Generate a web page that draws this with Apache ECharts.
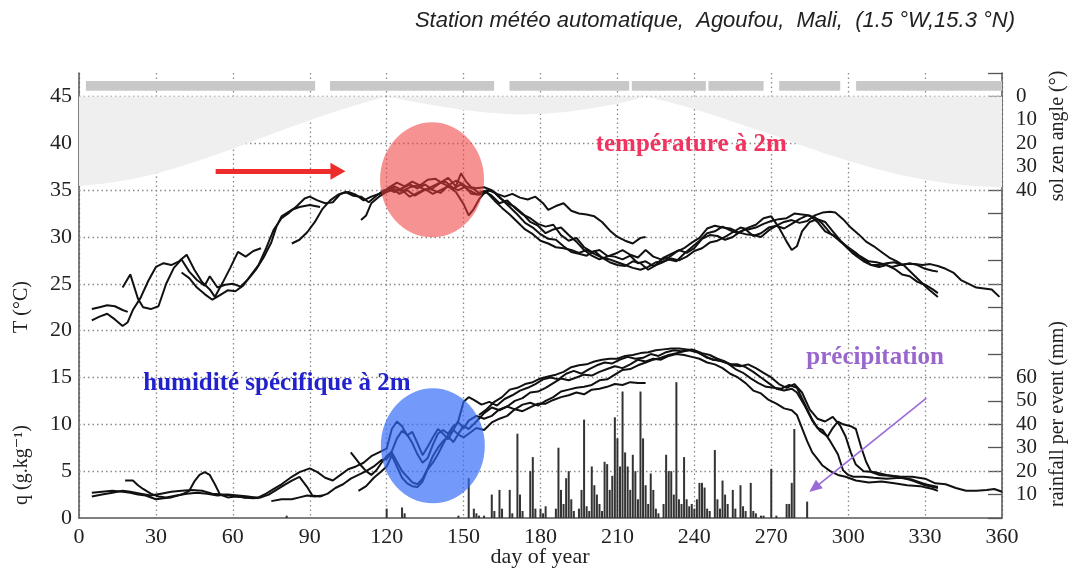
<!DOCTYPE html>
<html>
<head>
<meta charset="utf-8">
<script src="https://cdn.jsdelivr.net/npm/echarts@6/dist/echarts.min.js"></script>
<style>
  html, body { margin: 0; padding: 0; background: #ffffff; }
  #chart { width: 1072px; height: 575px; }
</style>
</head>
<body>
<div id="chart"></div>
<script>
// ---- Agoufou automatic weather station: daily series, one line per year ----

// 2 m air temperature (°C), [day of year, value]
const tempA = [[5,21.1],[8,21.5],[11,21.8],[14,21.2],[17,20.5],[19,20.9],[21,22.2],[24,23.5],[27,25.3],[30,26.8],[33,27.2],[36,27.0],[39,27.4],[42,28.1],[45,26.5],[48,25.2],[51,24.4],[53,23.6],[56,25.1],[59,26.7],[62,28.4],[65,27.9],[68,28.5],[71,28.8]];
const tempB1 = [[5,22.3],[8,22.5],[11,22.7],[14,22.6],[17,22.2],[19,22.0]];
const tempB2 = [[83,29.3],[86,29.7],[89,30.5],[92,31.6],[95,33.0],[98,33.9],[101,34.5],[104,34.8],[107,34.4],[110,34.3],[113,33.7],[116,34.4],[119,35.0],[122,35.2],[125,34.6],[128,35.0],[131,34.4],[134,34.9],[137,35.3],[140,35.7],[143,35.9],[146,35.2],[149,35.6],[152,35.0],[155,34.6],[158,34.9],[161,34.4],[164,33.6],[167,33.9],[170,33.1],[173,32.4],[176,32.0],[179,31.4],[182,31.1],[185,31.3],[188,30.2],[191,29.6],[194,29.9],[197,28.9],[200,28.4],[203,28.6],[206,28.0],[209,27.9],[212,27.6],[215,28.0],[218,27.2],[221,27.4],[224,26.9],[227,27.2],[230,27.6],[233,27.4],[236,28.2],[239,28.9],[242,29.6],[245,30.4],[248,30.6],[251,31.1],[254,30.7],[257,30.4],[260,30.8],[263,30.1],[266,30.4],[269,31.0],[272,31.2],[275,30.9],[278,31.4],[281,31.9],[284,32.3],[287,32.1],[290,31.4],[293,30.4],[296,29.8],[299,29.0],[302,28.2],[305,27.9],[308,27.4],[311,27.3],[314,27.1],[317,26.8],[320,27.0],[323,27.1],[326,27.1],[329,27.0],[332,27.1],[335,26.9],[338,26.6],[341,26.2],[344,25.4],[347,25.0],[350,24.6],[353,24.5],[356,24.4],[359,23.6]];
const tempC = [[17,24.6],[20,26.0],[23,23.4],[25,22.5],[28,22.3],[31,22.6],[34,25.0],[37,26.7],[40,27.6],[43,26.3],[46,25.4],[49,24.8],[51,25.8],[54,24.6],[57,24.9],[60,25.0],[63,24.7],[66,25.5],[69,26.5],[72,27.8],[75,29.4],[77,31.1],[79,32.2],[83,32.9],[86,33.2],[90,33.4],[94,33.2]];
const tempD = [[40,26.2],[43,25.6],[46,24.6],[49,23.9],[52,23.3],[55,23.8],[58,24.3],[61,24.2],[64,24.8],[67,25.9],[70,27.0],[73,28.8],[76,30.8],[79,32.0],[82,32.6],[85,33.3],[88,34.1],[90,34.3],[93,33.9],[96,33.6],[99,33.7],[102,34.6],[105,34.8],[108,34.5],[111,33.9],[114,34.3],[117,34.6],[120,34.9],[123,35.4],[126,35.0],[129,34.3],[132,34.7],[135,35.1],[138,34.6],[141,35.0],[144,35.4],[147,34.8],[150,33.5],[152,32.3],[154,33.0],[156,34.0],[159,35.0],[162,34.8],[165,34.0],[168,33.2],[171,32.4],[174,31.5],[177,31.0],[180,30.3],[183,29.8],[186,29.7],[189,29.0],[192,28.4],[195,28.2],[198,28.0],[201,28.5],[204,27.8],[207,27.3],[210,27.0],[213,26.9],[216,27.4],[219,27.2],[222,26.5],[225,27.0],[228,27.8],[231,28.2],[234,28.6],[237,28.3],[240,28.8],[243,29.8],[246,30.2],[249,30.1],[252,29.7],[255,30.0],[258,30.6],[261,31.0],[264,31.3],[267,32.0],[270,32.2],[273,31.0],[276,29.5],[278,28.6],[280,29.0],[282,30.6],[285,31.6],[288,31.9],[291,31.6],[294,30.6],[297,29.6],[300,28.8],[303,28.0],[306,27.4],[309,27.0],[312,27.0],[315,27.2],[318,27.3],[321,27.0],[324,27.2],[327,27.0],[330,26.6],[333,26.4],[335,26.3]];
const tempE = [[110,31.8],[112,32.3],[114,33.6],[117,34.3],[120,34.8],[123,35.1],[126,34.9],[129,35.3],[132,35.5],[135,35.0],[138,35.2],[141,35.8],[144,36.3],[147,35.4],[149,36.8],[151,35.9],[153,35.3],[155,35.2],[158,35.3],[161,35.0],[164,34.2],[167,33.6],[170,33.2],[173,32.5],[176,31.6],[179,31.2],[182,30.4],[185,30.8],[188,31.0],[191,30.2],[194,29.5],[197,28.6],[200,28.0],[203,27.6],[206,27.9],[209,28.2],[212,28.6],[215,28.1],[218,27.8],[221,28.6],[224,27.9],[227,27.6],[230,27.8],[233,28.4],[236,28.8],[239,29.4],[242,29.9],[245,30.9],[248,31.2],[251,31.0],[254,30.9],[257,30.5],[260,30.3],[263,30.2],[266,30.0],[269,30.7],[272,31.2],[275,31.6],[278,31.8],[281,31.5],[284,31.7],[287,32.3],[290,32.6],[293,32.7],[295,32.6],[298,31.9],[301,31.0],[304,30.3],[307,29.5],[310,29.0],[313,28.4],[316,27.8],[319,27.4],[322,26.9],[325,26.1],[328,25.3],[331,24.5],[335,23.6]];
const tempF = [[118,34.5],[121,35.3],[124,35.8],[127,35.4],[130,35.9],[133,35.5],[136,36.1],[139,36.2],[142,35.7],[145,35.3],[148,35.0],[151,35.4],[154,35.1],[157,34.5],[160,35.0],[163,34.6],[166,34.3],[169,34.6],[172,34.2],[175,34.0],[178,34.3],[181,33.6],[183,32.9],[186,33.3],[189,33.6],[192,32.8],[195,32.5],[198,32.4],[201,32.2],[204,31.6],[207,30.7],[210,30.0],[213,29.6],[216,29.3],[219,29.9],[221,30.0]];
const tempG = [[120,35.2],[123,34.8],[126,35.2],[129,35.6],[132,35.2],[135,35.6],[138,35.0],[141,34.7],[144,35.5],[147,36.0],[150,35.6],[153,34.6],[156,34.5],[159,34.8],[162,33.9],[165,33.1],[168,32.4],[171,31.6],[174,30.8],[177,30.3],[180,29.6],[183,29.3],[186,28.9],[189,28.8],[192,28.6],[195,28.3],[198,28.6],[201,28.2],[204,27.8],[207,27.6],[210,27.3],[213,27.0],[216,26.7],[219,26.5],[222,26.8],[225,27.3],[228,27.4],[231,27.7],[234,27.5],[237,27.9],[240,28.5],[243,28.8],[246,29.4],[249,29.6],[252,30.0],[255,30.5],[258,31.0],[261,30.8],[264,31.0],[267,31.4],[270,31.7],[273,31.9],[276,32.0],[279,32.5],[282,32.4],[285,32.3],[288,31.6],[291,30.6],[294,30.2],[297,29.5],[300,28.9],[303,28.3],[306,27.6],[309,27.0],[312,26.8],[315,27.0],[318,26.6],[321,26.0],[324,25.8],[327,25.2],[330,24.9],[333,24.4],[335,24.0]];

// 2 m specific humidity (g/kg), [day of year, value]
const humA = [[5,2.7],[9,2.8],[13,2.9],[17,2.8],[20,2.7],[23,2.5],[26,2.4],[30,2.0],[33,2.1],[36,2.2],[40,2.5],[43,2.9],[45,3.9],[47,4.6],[49,4.9],[51,4.6],[53,3.6],[55,2.5],[58,2.2],[61,2.3],[65,2.2],[70,2.2],[73,2.6],[76,3.1],[79,3.6],[83,4.4],[86,4.9],[90,5.3],[93,4.9],[96,4.3],[99,4.0],[102,4.6],[105,5.2],[108,5.5],[111,5.9],[114,6.6],[117,7.0],[120,7.4],[122,9.5],[124,10.3],[126,9.8],[128,8.8],[130,9.2],[132,8.0],[134,6.7],[136,7.6],[138,8.6],[140,9.5],[142,9.0],[144,8.4],[146,9.4],[148,10.4],[150,12.4],[152,12.9],[154,12.6],[157,12.1],[160,12.4],[163,12.0],[166,12.7],[169,13.1],[172,13.6],[175,13.9],[178,14.3],[181,14.8],[184,15.0],[187,14.8],[190,15.4],[193,15.7],[196,15.4],[199,15.9],[202,16.3],[205,16.6],[208,16.5],[211,16.9],[214,17.2],[217,17.0],[220,17.1],[223,17.5],[226,17.3],[229,17.7],[232,17.9],[235,17.8],[238,17.9],[241,17.7],[244,17.3],[247,16.9],[250,16.8],[253,16.5],[256,15.9],[259,15.5],[262,14.9],[265,14.4],[268,14.0],[271,13.9],[274,13.8],[277,14.2],[280,13.9],[283,12.2],[286,10.5],[288,9.6],[290,9.4],[293,8.2],[296,6.8],[298,5.1],[300,4.6],[302,4.4],[306,4.4],[310,4.3],[315,4.2],[320,4.3],[325,4.1],[330,3.6],[335,3.3]];
const humB = [[5,2.3],[9,2.5],[13,2.7],[17,2.9],[20,2.8],[24,2.6],[28,2.4],[32,2.6],[36,2.8],[40,2.9],[44,3.0],[48,2.9],[52,2.6],[56,2.5],[60,2.4],[64,2.2],[68,2.1],[71,2.2],[74,2.5],[77,3.0],[80,3.5],[83,4.0],[86,4.4],[89,3.3],[91,2.4],[94,2.3],[97,2.6],[100,3.2],[103,3.6],[106,4.2],[109,4.6],[112,5.0],[115,5.5],[118,6.2],[120,6.3],[122,7.0],[124,6.0],[126,5.0],[128,4.4],[130,3.8],[132,3.6],[134,4.2],[136,5.3],[138,6.6],[140,7.5],[142,8.2],[144,8.7],[146,8.1],[148,9.0],[150,9.8],[152,9.5],[155,10.3],[158,11.2],[161,11.8],[164,11.5],[167,11.9],[170,12.5],[173,12.8],[176,13.4],[179,13.5],[182,13.9],[185,14.4],[188,14.9],[191,14.7],[194,15.0],[197,15.3],[200,15.2],[203,15.6],[206,15.9],[209,16.2],[212,16.0],[215,16.4],[218,16.9],[221,16.7],[224,17.0],[227,16.9],[230,17.3],[233,17.5],[236,17.4],[239,17.2],[242,17.0],[245,16.6],[248,16.4],[251,16.0],[254,15.4],[257,15.0],[260,14.4],[263,13.6],[266,13.3],[269,12.6],[272,12.2],[275,11.7],[278,11.5],[280,11.0],[282,9.6],[284,8.2],[286,7.0],[288,6.3],[290,5.6],[293,5.0],[296,4.6],[299,4.4],[303,4.0],[308,3.8],[313,3.9],[318,3.7],[323,3.5],[328,3.4],[333,3.1],[335,2.9]];
const humC = [[18,4.0],[21,4.0],[23,3.5],[25,3.1],[28,2.6],[31,2.3],[34,2.2],[38,2.4],[42,2.6],[46,2.7],[50,2.6],[54,2.4],[58,2.5],[62,2.4],[66,2.3],[70,2.1]];
const humC2 = [[75,1.8],[79,2.0],[83,2.0],[86,2.2],[89,2.4],[92,2.3],[95,2.4]];
const humD = [[106,7.0],[108,6.3],[110,5.6],[112,5.0],[114,4.6],[116,5.1],[118,5.9],[120,6.6],[122,7.1],[124,8.5],[126,9.3],[128,8.9],[130,8.0],[132,6.8],[134,5.9],[136,6.4],[138,7.8],[140,9.0],[142,9.4],[144,9.0],[146,9.8],[148,10.2],[150,9.6],[152,10.4],[155,10.9],[158,10.6],[161,10.9],[164,11.6],[167,11.9],[170,11.6],[173,12.1],[176,12.3],[179,12.0],[182,12.5],[185,12.9],[188,13.5],[191,13.7],[194,13.9],[197,14.0],[200,14.2],[203,14.7],[206,14.8],[209,15.3],[212,15.8],[215,15.9],[218,16.3],[221,16.6],[224,16.9],[227,17.1],[230,17.4],[233,17.6],[236,17.8],[239,18.0],[242,17.6],[245,17.1],[248,16.9],[251,16.7],[254,16.4],[257,16.4],[260,16.1],[263,15.6],[266,15.0],[269,14.4],[272,13.8],[275,13.6],[278,13.8],[280,13.4],[283,12.0],[286,10.4],[289,9.3],[292,8.7],[294,9.6],[296,10.3],[298,10.0],[301,9.8],[303,9.5],[305,7.6],[307,6.0],[309,4.9],[312,4.6],[316,4.5],[320,4.4],[325,4.4],[330,4.2],[334,3.7],[338,3.6],[342,3.2],[346,2.9],[350,2.9],[354,3.0],[357,3.1],[360,2.8]];
const humE = [[109,2.9],[112,3.4],[115,4.3],[118,5.0],[120,5.5],[122,6.7],[124,5.5],[126,4.3],[128,3.7],[130,3.4],[132,3.3],[134,3.9],[136,5.2],[138,5.9],[140,6.8],[142,7.9],[144,8.9],[146,9.4],[148,8.9],[150,8.6],[152,9.0],[155,9.6],[158,9.4],[161,10.2],[164,10.6],[167,10.9],[170,11.6],[173,11.4],[176,11.8],[179,12.2],[182,12.2],[185,12.6],[188,12.9],[191,13.1],[194,13.4],[197,13.2],[200,13.7],[203,13.8],[206,14.0],[209,14.3],[212,14.2],[215,14.5],[218,14.4],[221,14.4]];
const humF = [[156,11.0],[159,11.6],[162,12.4],[165,12.9],[168,13.7],[171,13.9],[174,14.3],[177,14.5],[180,14.9],[183,15.1],[186,15.3],[189,15.6],[192,16.1],[195,16.3],[198,16.4],[201,16.7],[204,16.9],[207,17.0],[210,17.0],[213,17.3],[216,17.4],[219,17.6],[222,17.7],[225,17.9],[228,18.0],[231,18.1],[234,18.1],[237,18.0],[240,17.9],[243,17.6],[246,17.4],[249,17.0],[252,16.7],[255,16.3],[258,16.2],[261,16.4],[264,16.0],[267,15.5],[270,15.0],[273,14.3],[276,13.9],[279,14.3],[282,13.4],[285,11.6],[288,10.6],[291,10.3],[294,10.8],[297,9.8],[299,8.7],[301,7.0],[303,5.7],[306,5.0],[310,4.9],[315,4.6],[320,4.4],[325,4.0],[330,3.5],[335,3.2]];

// rainfall per event (mm), [day of year, amount]
const rainfall = [[81,1],[120,4],[126,4.5],[127,2],[148,1],[152,17],[154,4],[155,2],[156,1],[158,1],[161,10],[162,3],[164,12],[165,4],[168,12],[169,2],[171,36],[172,10],[173,3],[176,20],[177,26],[178,4],[180,4],[181,2],[182,5],[186,4],[187,30],[188,12],[189,6],[190,17],[191,20],[192,8],[193,3],[195,4],[196,12],[197,42],[198,5],[199,3],[200,22],[201,14],[202,10],[203,6],[204,3],[205,24],[206,23],[207,12],[208,18],[209,43],[210,34],[211,22],[212,54],[213,28],[214,22],[215,12],[216,27],[217,20],[218,8],[219,54],[220,34],[221,14],[222,6],[223,19],[224,12],[225,4],[226,2],[228,6],[229,27],[230,20],[231,20],[232,10],[233,58],[234,8],[235,6],[236,26],[237,8],[238,5],[239,6],[240,4],[241,8],[242,15],[243,15],[244,13],[245,4],[246,3],[248,29],[249,8],[250,4],[251,16],[252,10],[253,6],[255,12],[256,4],[258,14],[259,5],[260,3],[262,15],[263,3],[264,2],[266,1],[267,1],[270,21],[272,1],[276,6],[277,6],[278,15],[279,38],[284,7]];

// noon solar zenith angle (degrees), [day of year, angle]
const solarZenith = [[0,38.3],[10,37.2],[20,35.5],[30,33],[40,29.8],[50,26.2],[60,22.3],[70,18.2],[80,14.1],[90,10.2],[100,6.4],[110,3],[120,0],[125,1.1],[130,2.2],[140,4.1],[150,5.8],[160,7],[170,7.7],[180,7.5],[190,6.6],[200,5.1],[210,3.1],[216,1.5],[221,0],[230,2.4],[240,5.4],[250,8.9],[260,12.6],[270,16.3],[280,20.2],[290,24],[300,27.5],[310,30.7],[320,33.4],[330,35.6],[340,37.3],[350,38.4],[360,38.8]];

// data-coverage periods, [first day, last day]
const coverage = [[2.7,92.1],[97.9,161.9],[167.9,214.6],[215.6,244.5],[245.5,267],[273.1,296.9],[303.1,360]];

// axis ticks
const dayTicks = { min: 0, max: 360, step: 30 };
const leftLevels = [5, 10, 15, 20, 25, 30, 35, 40, 45];
const rainTickLabels = [10, 20, 30, 40, 50, 60];
const zenithTickLabels = [0, 10, 20, 30, 40];

// ---- rendering ----
const SERIF = "'Liberation Serif', 'DejaVu Serif', serif";
const chart = echarts.init(document.getElementById('chart'), null, { renderer: 'canvas' });

const tempSeries = [tempA, tempB1, tempB2, tempC, tempD, tempE, tempF, tempG];
const humSeries = [humA, humB, humC, humC2, humD, humE, humF];

function lineSeries(data, name) {
  return {
    name, type: 'line', data, yAxisIndex: 0, symbol: 'none', z: 4,
    lineStyle: { color: '#111', width: 2 }, silent: true
  };
}

const series = [];

// dotted horizontal grid
series.push({
  type: 'line', data: [], yAxisIndex: 0, silent: true,
  markLine: {
    z: 1, silent: true, symbol: 'none', label: { show: false },
    lineStyle: { color: '#8a8a8a', type: [1.5, 3], width: 1.3 },
    data: leftLevels.map(v => ({ yAxis: v }))
  }
});

// solar zenith shading (right axis unit: mm scale, zenith read as 180 - value)
series.push({
  type: 'custom', yAxisIndex: 1, z: 3, silent: true,
  data: solarZenith,
  renderItem(params, api) {
    if (params.dataIndex !== 0) return null;
    const pts = solarZenith.map(([d, z]) => api.coord([d, 180 - z]));
    const last = solarZenith[solarZenith.length - 1][0];
    pts.push(api.coord([last, 180]));
    pts.push(api.coord([solarZenith[0][0], 180]));
    return { type: 'polygon', shape: { points: pts }, style: { fill: '#efefef' } };
  }
});

// coverage strips
series.push({
  type: 'custom', yAxisIndex: 0, z: 5, silent: true,
  data: coverage,
  renderItem(params, api) {
    const a = api.coord([api.value(0), 46.65]);
    const b = api.coord([api.value(1), 45.6]);
    return { type: 'rect', shape: { x: a[0], y: a[1], width: b[0] - a[0], height: b[1] - a[1] }, style: { fill: '#c8c8c8' } };
  }
});

// rainfall bars (right axis, mm)
series.push({
  type: 'bar', yAxisIndex: 1, data: rainfall, barWidth: 2, z: 3, silent: true,
  itemStyle: { color: '#333' }
});

tempSeries.forEach((d, i) => series.push(lineSeries(d, 'T' + i)));
humSeries.forEach((d, i) => series.push(lineSeries(d, 'q' + i)));

// highlight discs
series.push({
  type: 'scatter', yAxisIndex: 0, z: 8, silent: true,
  symbol: 'circle', symbolSize: [104, 115],
  itemStyle: { opacity: 1 },
  data: [{ value: [137.7, 36.1], itemStyle: { color: 'rgba(240,60,60,0.56)', opacity: 1 } },
         { value: [138.0, 7.7], itemStyle: { color: 'rgba(48,105,248,0.68)', opacity: 1 } }]
});

// arrows
series.push({
  type: 'line', data: [], yAxisIndex: 0, silent: true,
  markLine: {
    z: 9, silent: true, label: { show: false }, animation: false,
    symbol: ['none', 'triangle'],
    lineStyle: { type: 'solid' },
    data: [
      [{ coord: [53.3, 37], symbol: 'none', lineStyle: { color: '#ee2c2c', width: 5, type: 'solid' } },
       { coord: [101, 37], symbol: 'triangle', symbolSize: [17, 15] }],
      [{ coord: [330.5, 12.8], symbol: 'none', lineStyle: { color: '#9a6ad8', width: 1.6, type: 'solid' } },
       { coord: [286.8, 3.2], symbol: 'triangle', symbolSize: [11, 13] }]
    ]
  }
});

// annotation texts
function note(text, at, color) {
  return {
    value: at, symbolSize: 0,
    itemStyle: { opacity: 1 },
    label: { show: true, position: 'inside', formatter: text, color, opacity: 1,
      fontFamily: SERIF, fontWeight: 'bold', fontSize: 25 }
  };
}
series.push({
  type: 'scatter', yAxisIndex: 0, z: 10, silent: true, symbol: 'circle',
  itemStyle: { opacity: 1 },
  data: [
    note('température à 2m', [238.8, 39.85], '#f0335f'),
    note('humidité spécifique à 2m', [77.2, 14.4], '#2222cc'),
    note('précipitation', [310.5, 17.1], '#9966cc')
  ]
});

const option = {
  animation: false,
  backgroundColor: '#ffffff',
  grid: { left: 79, right: 70, top: 73, bottom: 57, containLabel: false },
  xAxis: {
    type: 'value', min: dayTicks.min, max: dayTicks.max, interval: dayTicks.step,
    axisLine: { show: true, onZero: false, lineStyle: { color: '#555', width: 1.5 } },
    axisTick: { show: false },
    axisLabel: { color: '#222', fontFamily: SERIF, fontSize: 22, margin: 8 },
    splitLine: { show: true, lineStyle: { color: '#8a8a8a', type: [1.5, 3], width: 1.3 } }
  },
  yAxis: [
    {
      type: 'value', min: 0, max: 47.5, interval: 5, position: 'left',
      axisLine: { show: true, onZero: false, lineStyle: { color: '#555', width: 1.5 } },
      axisTick: { show: false },
      splitLine: { show: false },
      axisLabel: { color: '#222', fontFamily: SERIF, fontSize: 22, margin: 7,
        formatter: v => (v % 5 === 0 ? String(v) : '') }
    },
    {
      type: 'value', min: 0, max: 190, interval: 10, position: 'right',
      axisLine: { show: true, onZero: false, lineStyle: { color: '#555', width: 1.5 } },
      axisTick: { show: true, inside: true, length: 14, lineStyle: { color: '#555', width: 1.3 } },
      splitLine: { show: false },
      axisLabel: { color: '#222', fontFamily: SERIF, fontSize: 21, margin: 14,
        formatter: v => {
          if (rainTickLabels.includes(v)) return String(v);
          if (zenithTickLabels.includes(180 - v)) return String(180 - v);
          return '';
        } }
    }
  ],
  series,
  graphic: [
    { type: 'text', right: 57, top: 10, silent: true,
      style: { text: 'Station météo automatique,  Agoufou,  Mali,  (1.5 °W,15.3 °N)',
        font: "italic 22px 'Liberation Sans', 'DejaVu Sans', sans-serif", fill: '#222' } },
    { type: 'text', x: 22, y: 307, rotation: Math.PI / 2, silent: true,
      style: { text: 'T (°C)', font: "20px " + SERIF, fill: '#222', align: 'center', verticalAlign: 'middle' } },
    { type: 'text', x: 22, y: 465, rotation: Math.PI / 2, silent: true,
      style: { text: 'q (g.kg⁻¹)', font: "20px " + SERIF, fill: '#222', align: 'center', verticalAlign: 'middle' } },
    { type: 'text', x: 1058, y: 136, rotation: Math.PI / 2, silent: true,
      style: { text: 'sol zen angle (°)', font: "20px " + SERIF, fill: '#222', align: 'center', verticalAlign: 'middle' } },
    { type: 'text', x: 1058, y: 414, rotation: Math.PI / 2, silent: true,
      style: { text: 'rainfall per event (mm)', font: "20px " + SERIF, fill: '#222', align: 'center', verticalAlign: 'middle' } },
    { type: 'text', x: 540, y: 557, silent: true,
      style: { text: 'day of year', font: "22px " + SERIF, fill: '#222', align: 'center', verticalAlign: 'middle' } }
  ]
};

chart.setOption(option);
</script>
</body>
</html>
